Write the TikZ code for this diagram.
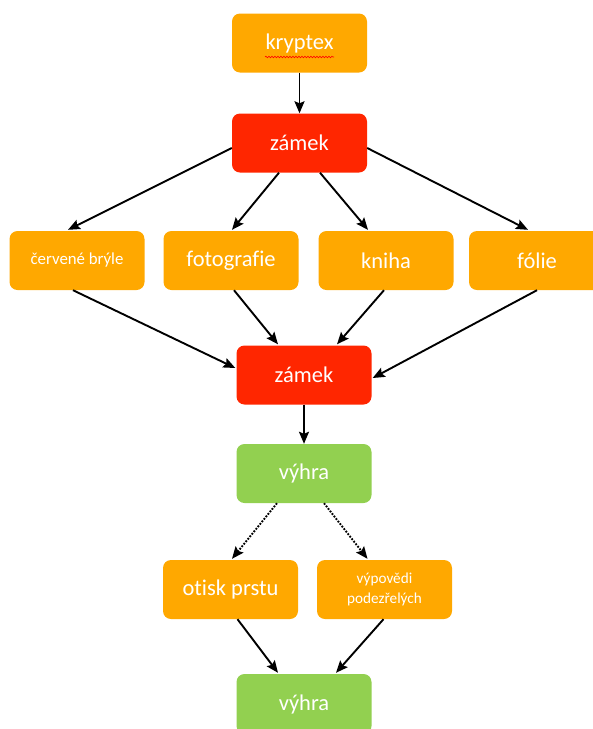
\documentclass[tikz,border=0pt]{standalone}
\usepackage{fontspec}
\setmainfont{Carlito}[Ligatures=NoCommon]
\usetikzlibrary{arrows.meta,calc,decorations.pathmorphing}
\definecolor{orng}{HTML}{FFA800}
\definecolor{rd}{HTML}{FF2600}
\definecolor{grn}{HTML}{92D050}
\tikzset{
  box/.style={rounded corners=8pt,minimum width=135pt,minimum height=59pt,inner sep=2pt,text=white,font=\fontsize{22.5}{26}\selectfont,align=center},
  obox/.style={box,fill=orng},
  rbox/.style={box,fill=rd},
  gbox/.style={box,fill=grn},
  conn/.style={line width=1.9pt,-{Stealth[length=12pt,width=10pt,inset=2pt]}},
  dconn/.style={conn,dash pattern=on 1.8pt off 1.4pt}
}
\begin{document}
\begin{tikzpicture}[x=1pt,y=-1pt]
\useasboundingbox (0,0) rectangle (593,729);
\node[obox] (kryptex) at (299.5,43) {kryptex};
\node[rbox] (zamekA) at (299.5,143) {zámek};
\node[obox,font=\fontsize{16.8}{20}\selectfont] (cervene) at (77,260.5) {červené brýle};
\node[obox] (foto) at (231,260.5) {fotografie};
\node[obox] (kniha) at (386,260.5) {kniha};
\node[obox,minimum width=136pt] (folie) at (537,260.5) {fólie};
\node[rbox] (zamekB) at (304,375) {zámek};
\node[gbox] (vyhraA) at (304,473.5) {výhra};
\node[obox] (otisk) at (230.5,589.5) {otisk prstu};
\node[obox,font=\fontsize{15.2}{20}\selectfont] (vypovedi) at (384.5,589.5) {výpovědi\\podezřelých};
\node[gbox,minimum height=60pt] (vyhraB) at (304,704) {výhra};
% spell-check underline
\coordinate (ulA) at (265,57);
\coordinate (ulB) at (334,57);
\draw[red,line width=0.6pt,decorate,decoration={snake,amplitude=0.8pt,segment length=3pt}] (ulA) -- (ulB);
\draw[conn] (kryptex.south) -- (zamekA.north);
\draw[conn] ($(zamekA.west)+(0,5)$) -- ($(cervene.north)+(-9,-1)$);
\draw[conn] ($(zamekA.south)+(-20.5,0)$) -- ($(foto.north)+(1,-1)$);
\draw[conn] ($(zamekA.south)+(20.5,0)$) -- ($(kniha.north)+(-18,-1)$);
\draw[conn] ($(zamekA.east)+(0,5)$) -- ($(folie.north)+(-9,-1)$);
\draw[conn] ($(cervene.south)+(-4,0)$) -- ($(zamekB.west)+(-1,-7)$);
\draw[conn] ($(foto.south)+(3,0)$) -- ($(zamekB.north)+(-26,-1)$);
\draw[conn] ($(kniha.south)+(-2,0)$) -- ($(zamekB.north)+(33,-1)$);
\draw[conn] (folie.south) -- ($(zamekB.east)+(1,3)$);
\draw[conn] (zamekB.south) -- (vyhraA.north);
\draw[dconn] ($(vyhraA.south)+(-27,0)$) -- ($(otisk.north)+(1.5,-1)$);
\draw[dconn] ($(vyhraA.south)+(20,0)$) -- ($(vypovedi.north)+(-17,-1)$);
\draw[conn] ($(otisk.south)+(7,0)$) -- ($(vyhraB.north)+(-26,-1)$);
\draw[conn] ($(vypovedi.south)+(-1,0)$) -- ($(vyhraB.north)+(32,-1)$);
\end{tikzpicture}
\end{document}
